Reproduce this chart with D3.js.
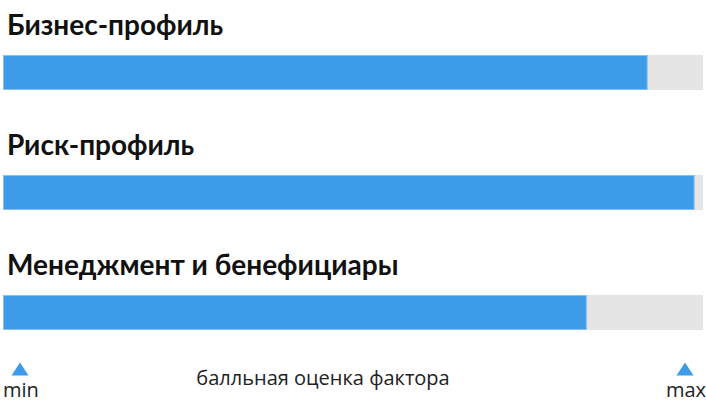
<!DOCTYPE html>
<html>
<head>
<meta charset="utf-8">
<script src="https://cdn.jsdelivr.net/npm/d3@7"></script>
<style>
	html, body { margin: 0; padding: 0; background: #fff; }
</style>
</head>
<body>
<div id="viz"></div>
<script>
// factor names and their scores (share of max)
const categories = ["Бизнес-профиль", "Риск-профиль", "Менеджмент и бенефициары"];
const scores = [0.921, 0.988, 0.834];
const scaleEnds = ["min", "max"];
const scaleCaption = "балльная оценка фактора";

var width = 706,
	height = 408;

var svg = d3
	.select("#viz")
	.append("svg")
	.attr("width", width)
	.attr("height", height);

const data = categories.map((c, i) => ({ name: c, value: scores[i] }));

const x = d3.scaleLinear().domain([0, 1]).range([3, 703]);
const y = d3.scaleBand().domain(categories).range([55, 415]);
const barH = 35;

// grey tracks
svg
	.append("g")
	.selectAll("rect")
	.data(data)
	.join("rect")
	.attr("x", x(0))
	.attr("y", (d) => y(d.name))
	.attr("width", x(1) - x(0))
	.attr("height", barH)
	.attr("fill", "#e5e5e5");

// blue bars
svg
	.append("g")
	.selectAll("rect")
	.data(data)
	.join("rect")
	.attr("x", x(0) + 0.5)
	.attr("y", (d) => y(d.name) + 0.5)
	.attr("width", (d) => x(d.value) - x(0) - 1)
	.attr("height", barH - 1)
	.attr("fill", "#3d9be9")
	.attr("stroke", "#86c0f0")
	.attr("stroke-width", 1);

// titles
svg
	.append("g")
	.selectAll("text")
	.data(data)
	.join("text")
	.attr("x", 7)
	.attr("y", (d) => y(d.name) - 20)
	.attr("font-family", "Lato, 'Noto Sans', sans-serif")
	.attr("font-weight", "bold")
	.attr("font-size", 28)
	.attr("fill", "#111")
	.text((d) => d.name);

// min / max markers
const ends = [
	{ label: scaleEnds[0], cx: 20, anchor: "start", tx: 3 },
	{ label: scaleEnds[1], cx: 685, anchor: "end", tx: 706 },
];

svg
	.append("g")
	.selectAll("path")
	.data(ends)
	.join("path")
	.attr("d", (d) => `M${d.cx - 8.5},375.5L${d.cx + 8.5},375.5L${d.cx},362.5Z`)
	.attr("fill", "#3d9be9");

svg
	.append("g")
	.selectAll("text")
	.data(ends)
	.join("text")
	.attr("x", (d) => d.tx)
	.attr("y", 397)
	.attr("text-anchor", (d) => d.anchor)
	.attr("font-family", "'Open Sans', sans-serif")
	.attr("font-size", 20)
	.attr("fill", "#222")
	.text((d) => d.label);

svg
	.append("text")
	.attr("x", 323)
	.attr("y", 385)
	.attr("text-anchor", "middle")
	.attr("font-family", "'Open Sans', sans-serif")
	.attr("font-size", 20)
	.attr("fill", "#222")
	.text(scaleCaption);
</script>
</body>
</html>
